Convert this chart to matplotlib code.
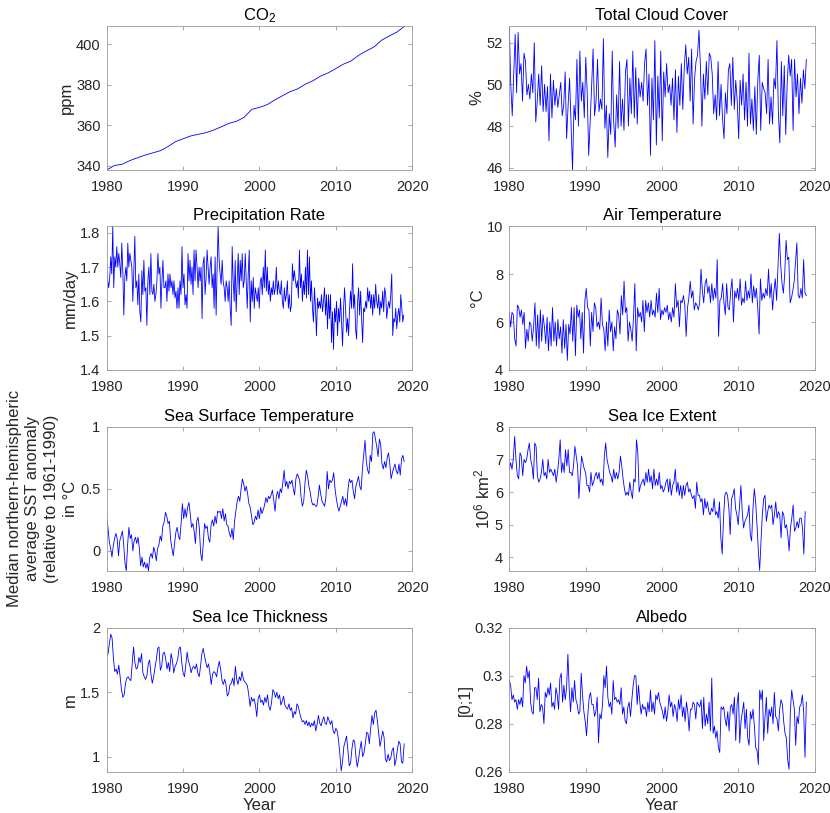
import numpy as np
import matplotlib
matplotlib.use("Agg")
import matplotlib.pyplot as plt
from matplotlib.ticker import FuncFormatter

# CO2, ppm (annual, 1980-2019)
co2_years = list(range(1980, 2020))
co2 = [338.0, 340.2, 340.8, 342.6, 344.0, 345.3, 346.4, 347.5, 349.5, 352.0,
       353.4, 354.8, 355.6, 356.4, 357.7, 359.3, 361.0, 362.0, 364.0, 367.9,
       368.9, 370.2, 372.5, 374.6, 376.6, 378.0, 380.3, 382.0, 384.3, 385.9,
       388.0, 390.2, 391.8, 394.6, 396.7, 398.7, 402.0, 404.1, 406.0, 408.9]

# total cloud cover, %
cloud = [52.8, 50.0, 48.5, 50.5, 52.4, 49.6, 52.5, 50.5, 51.0, 49.2,
         51.5, 51.1, 49.5, 50.0, 49.3, 50.5, 49.6, 52.0, 48.2, 49.2,
         50.5, 49.0, 50.9, 48.7, 50.0, 48.7, 49.9, 47.3, 50.5, 48.4,
         50.2, 49.0, 49.8, 48.9, 49.5, 50.1, 48.5, 49.0, 50.6, 47.4,
         49.0, 50.3, 48.1, 45.9, 49.0, 48.3, 51.2, 48.0, 51.6, 49.2,
         50.1, 48.4, 51.3, 49.6, 46.6, 48.2, 50.0, 51.7, 48.5, 49.2,
         51.2, 48.7, 49.3, 48.8, 52.2, 47.9, 49.0, 46.5, 48.6, 47.6,
         51.6, 48.2, 47.0, 49.5, 47.9, 51.1, 48.0, 49.3, 47.8, 50.6,
         51.2, 48.0, 50.3, 48.6, 51.6, 48.4, 50.8, 48.1, 50.3, 49.4,
         50.1, 49.2, 51.0, 51.7, 49.0, 50.5, 46.6, 50.3, 48.3, 52.1,
         47.1, 50.4, 48.4, 51.6, 47.3, 50.6, 49.4, 51.0, 49.6, 50.0,
         49.0, 50.3, 48.3, 50.7, 47.7, 50.4, 49.0, 51.0, 48.8, 50.8,
         51.9, 50.5, 51.3, 49.2, 51.7, 48.1, 50.3, 51.1, 51.4, 52.6,
         50.8, 48.0, 50.5, 49.3, 51.1, 49.5, 51.5, 51.3, 50.5, 48.6,
         49.5, 48.3, 51.1, 48.5, 50.0, 48.4, 47.4, 49.6, 48.6, 50.7,
         51.0, 49.0, 51.3, 48.8, 50.2, 49.2, 47.4, 50.2, 49.0, 50.5,
         48.3, 50.1, 48.0, 51.5, 48.1, 49.3, 47.8, 49.9, 47.6, 50.2,
         51.4, 47.8, 50.1, 49.8, 49.6, 48.6, 51.2, 48.1, 49.4, 48.1,
         50.3, 49.8, 52.1, 48.6, 47.2, 51.1, 48.5, 50.9, 47.6, 50.1,
         51.4, 50.4, 51.2, 47.8, 51.2, 49.4, 50.5, 48.6, 50.3, 49.1,
         50.7, 49.8, 51.2]

# precipitation rate, mm/day
precip = [1.69, 1.66, 1.64, 1.67, 1.73, 1.68, 1.82, 1.64, 1.73, 1.70,
          1.76, 1.70, 1.74, 1.71, 1.67, 1.77, 1.69, 1.56, 1.67, 1.70,
          1.66, 1.77, 1.70, 1.74, 1.72, 1.70, 1.60, 1.69, 1.79, 1.64,
          1.66, 1.59, 1.68, 1.57, 1.54, 1.69, 1.62, 1.72, 1.63, 1.64,
          1.53, 1.66, 1.70, 1.62, 1.74, 1.63, 1.62, 1.65, 1.60, 1.62,
          1.66, 1.74, 1.68, 1.70, 1.58, 1.66, 1.72, 1.64, 1.64, 1.66,
          1.60, 1.68, 1.63, 1.68, 1.64, 1.66, 1.62, 1.66, 1.61, 1.63,
          1.58, 1.64, 1.58, 1.66, 1.62, 1.76, 1.64, 1.68, 1.59, 1.62,
          1.58, 1.74, 1.66, 1.72, 1.65, 1.70, 1.62, 1.75, 1.66, 1.75,
          1.70, 1.64, 1.70, 1.66, 1.70, 1.55, 1.71, 1.73, 1.62, 1.67,
          1.75, 1.70, 1.65, 1.70, 1.73, 1.64, 1.68, 1.58, 1.73, 1.56,
          1.70, 1.82, 1.72, 1.68, 1.65, 1.72, 1.66, 1.64, 1.60, 1.66,
          1.64, 1.60, 1.66, 1.58, 1.53, 1.76, 1.66, 1.60, 1.72, 1.57,
          1.66, 1.74, 1.62, 1.72, 1.66, 1.74, 1.64, 1.66, 1.74, 1.66,
          1.58, 1.68, 1.75, 1.54, 1.66, 1.60, 1.67, 1.58, 1.64, 1.62,
          1.60, 1.64, 1.58, 1.66, 1.67, 1.62, 1.70, 1.64, 1.75, 1.63,
          1.70, 1.62, 1.66, 1.60, 1.64, 1.62, 1.66, 1.62, 1.64, 1.70,
          1.62, 1.66, 1.63, 1.62, 1.66, 1.60, 1.58, 1.64, 1.60, 1.62,
          1.66, 1.58, 1.62, 1.57, 1.59, 1.71, 1.66, 1.69, 1.66, 1.64,
          1.66, 1.61, 1.75, 1.64, 1.68, 1.60, 1.66, 1.62, 1.70, 1.61,
          1.75, 1.62, 1.73, 1.60, 1.66, 1.58, 1.54, 1.64, 1.58, 1.50,
          1.61, 1.58, 1.60, 1.58, 1.62, 1.57, 1.60, 1.64, 1.56, 1.62,
          1.52, 1.62, 1.55, 1.62, 1.48, 1.57, 1.46, 1.58, 1.54, 1.60,
          1.50, 1.58, 1.54, 1.61, 1.54, 1.47, 1.58, 1.64, 1.58, 1.51,
          1.55, 1.50, 1.58, 1.63, 1.58, 1.71, 1.58, 1.62, 1.52, 1.49,
          1.60, 1.64, 1.56, 1.63, 1.55, 1.48, 1.58, 1.57, 1.60, 1.58,
          1.64, 1.60, 1.63, 1.58, 1.62, 1.56, 1.62, 1.58, 1.65, 1.60,
          1.58, 1.62, 1.56, 1.60, 1.58, 1.63, 1.57, 1.64, 1.62, 1.55,
          1.58, 1.60, 1.58, 1.62, 1.68, 1.50, 1.55, 1.54, 1.58, 1.52,
          1.56, 1.58, 1.54, 1.62, 1.58, 1.54, 1.56]

# air temperature, degC
air = [6.4, 5.8, 6.4, 6.3, 5.3, 5.0, 6.7, 6.6, 6.2, 6.5,
       5.9, 6.4, 4.9, 5.7, 5.2, 6.0, 5.9, 5.2, 5.8, 6.8,
       5.0, 6.3, 4.9, 6.5, 5.2, 6.3, 5.8, 5.1, 6.2, 4.8,
       6.0, 5.0, 6.6, 5.2, 6.0, 5.0, 6.1, 5.3, 5.8, 4.7,
       6.1, 4.9, 5.9, 4.4, 5.9, 5.5, 6.6, 5.2, 6.6, 4.6,
       6.7, 6.2, 6.5, 5.3, 6.4, 4.7, 6.9, 7.4, 6.6, 6.5,
       5.0, 6.4, 5.6, 6.8, 6.6, 5.8, 6.0, 5.7, 7.0, 5.9,
       5.7, 4.8, 6.0, 5.0, 6.5, 5.6, 6.0, 4.8, 5.8, 5.3,
       6.5, 6.3, 5.5, 7.1, 6.3, 7.7, 6.4, 6.6, 5.2, 6.0,
       5.7, 5.2, 6.2, 7.6, 4.8, 6.6, 6.2, 6.4, 6.0, 6.9,
       5.6, 6.9, 6.4, 6.8, 6.2, 6.9, 6.3, 6.5, 6.2, 7.2,
       6.4, 7.4, 6.1, 6.5, 6.3, 6.6, 6.4, 6.7, 6.1, 6.4,
       6.0, 6.6, 6.2, 7.6, 6.6, 6.9, 5.8, 6.9, 6.8, 7.1,
       6.7, 5.4, 6.6, 7.0, 7.7, 7.0, 7.3, 6.5, 6.8, 6.7,
       6.5, 6.8, 8.2, 7.3, 6.8, 7.6, 7.8, 7.2, 7.5, 6.8,
       7.6, 6.9, 7.4, 7.0, 8.6, 5.4, 6.9, 7.0, 7.6, 6.8,
       6.3, 7.6, 6.6, 6.5, 7.3, 7.8, 6.0, 7.3, 7.0, 7.4,
       6.9, 7.8, 6.7, 7.0, 6.8, 7.7, 6.9, 7.3, 7.0, 8.0,
       6.8, 7.5, 7.0, 7.4, 6.6, 5.5, 7.8, 6.9, 7.2, 7.0,
       7.4, 7.1, 8.2, 7.0, 7.6, 6.5, 7.3, 7.8, 6.9, 8.3,
       9.7, 8.4, 7.6, 7.2, 8.0, 9.4, 8.6, 8.7, 6.8, 7.0,
       7.3, 7.7, 8.5, 9.3, 7.1, 7.0, 7.4, 7.0, 8.6, 7.2,
       7.1]

# sea surface temperature anomaly, degC
sst = [0.27, 0.18, 0.07, 0.02, -0.05, 0.04, 0.10, 0.14, 0.10, -0.04,
       0.08, 0.12, 0.16, 0.05, -0.10, -0.16, 0.05, 0.19, 0.10, 0.13,
       0.00, 0.08, 0.11, 0.06, 0.11, 0.02, -0.12, -0.05, -0.13, -0.09,
       -0.14, -0.10, -0.16, -0.05, -0.02, -0.06, 0.03, -0.01, -0.08, 0.02,
       0.05, 0.12, 0.08, 0.20, 0.23, 0.31, 0.28, 0.22, 0.24, 0.09,
       0.02, -0.04, 0.06, 0.15, 0.19, 0.12, 0.09, 0.22, 0.38, 0.26,
       0.34, 0.27, 0.35, 0.39, 0.30, 0.19, 0.22, 0.16, 0.06, 0.24,
       0.27, 0.18, -0.02, -0.08, 0.06, 0.22, 0.18, 0.20, 0.10, 0.07,
       0.21, 0.25, 0.20, 0.28, 0.22, 0.32, 0.31, 0.32, 0.26, 0.34,
       0.24, 0.30, 0.21, 0.20, 0.14, 0.11, 0.18, 0.09, 0.24, 0.32,
       0.40, 0.44, 0.40, 0.50, 0.58, 0.54, 0.48, 0.52, 0.46, 0.38,
       0.35, 0.28, 0.21, 0.23, 0.28, 0.25, 0.33, 0.26, 0.35, 0.30,
       0.33, 0.37, 0.43, 0.39, 0.44, 0.42, 0.45, 0.49, 0.41, 0.32,
       0.44, 0.48, 0.42, 0.50, 0.47, 0.55, 0.65, 0.52, 0.56, 0.50,
       0.56, 0.54, 0.57, 0.50, 0.45, 0.58, 0.62, 0.60, 0.56, 0.43,
       0.36, 0.40, 0.55, 0.65, 0.60, 0.52, 0.47, 0.40, 0.37, 0.38,
       0.36, 0.36, 0.43, 0.53, 0.46, 0.40, 0.38, 0.36, 0.43, 0.64,
       0.50, 0.57, 0.55, 0.57, 0.63, 0.50, 0.42, 0.36, 0.32, 0.36,
       0.40, 0.44, 0.37, 0.42, 0.36, 0.50, 0.58, 0.55, 0.57, 0.48,
       0.42, 0.52, 0.56, 0.60, 0.52, 0.49, 0.66, 0.78, 0.89, 0.72,
       0.65, 0.62, 0.77, 0.72, 0.95, 0.96, 0.90, 0.84, 0.76, 0.90,
       0.86, 0.70, 0.66, 0.72, 0.67, 0.75, 0.79, 0.70, 0.58, 0.63,
       0.67, 0.70, 0.64, 0.62, 0.70, 0.61, 0.74, 0.77, 0.72]

# sea ice extent, 10^6 km^2
extent = [6.7, 6.9, 6.7, 7.0, 7.7, 7.0, 6.5, 6.4, 7.2, 7.1,
          6.5, 7.0, 6.9, 7.0, 7.3, 7.5, 7.0, 6.8, 6.4, 7.5,
          7.4, 6.5, 6.3, 6.4, 6.6, 7.0, 6.5, 6.6, 6.4, 7.0,
          6.6, 6.7, 6.6, 6.5, 6.7, 6.3, 6.6, 7.0, 7.6, 6.6,
          6.9, 6.6, 7.3, 6.8, 7.3, 6.6, 6.6, 6.5, 6.8, 7.4,
          7.1, 6.8, 5.8, 6.5, 7.1, 6.9, 6.7, 6.6, 6.2, 6.2,
          6.0, 6.6, 6.2, 6.3, 6.5, 6.6, 6.4, 6.6, 6.3, 6.4,
          6.2, 7.1, 7.5, 7.0, 6.8, 6.6, 6.5, 6.3, 6.7, 6.4,
          6.6, 6.4, 6.6, 7.1, 6.8, 6.4, 6.1, 5.9, 6.0, 5.9,
          6.3, 6.0, 5.8, 6.4, 6.3, 7.6, 7.2, 6.0, 6.2, 6.3,
          6.4, 6.2, 6.6, 6.3, 6.7, 6.3, 6.5, 6.1, 6.7, 6.2,
          6.4, 6.2, 6.6, 6.1, 6.2, 6.0, 6.1, 6.3, 6.4, 6.0,
          6.4, 5.9, 6.2, 6.3, 6.7, 6.0, 6.3, 5.9, 6.2, 5.8,
          6.2, 5.9, 6.2, 6.3, 6.0, 6.1, 5.9, 5.8, 5.9, 5.5,
          6.3, 5.9, 5.9, 5.7, 5.8, 5.3, 5.8, 5.5, 5.7, 5.4,
          5.3, 5.5, 5.4, 5.8, 5.3, 5.4, 5.2, 5.7, 4.6, 4.1,
          5.2, 5.9, 6.0, 5.9, 5.5, 4.7, 5.8, 5.9, 6.1, 5.5,
          5.3, 5.0, 5.6, 6.2, 5.4, 4.9, 5.1, 5.2, 5.3, 5.6,
          4.7, 4.5, 5.5, 6.1, 5.7, 5.0, 4.2, 3.6, 4.5, 5.3,
          5.8, 5.9, 5.1, 5.4, 5.6, 5.5, 5.6, 5.0, 5.3, 5.7,
          5.2, 5.4, 5.3, 4.6, 5.4, 5.3, 4.9, 5.0, 4.7, 4.2,
          4.9, 5.2, 5.6, 4.8, 4.9, 5.1, 4.9, 5.2, 5.2, 4.9,
          4.1, 5.4]

# sea ice thickness, m
thickness = [1.78, 1.80, 1.88, 1.95, 1.92, 1.76, 1.66, 1.68, 1.64, 1.71,
             1.62, 1.52, 1.46, 1.48, 1.57, 1.61, 1.62, 1.60, 1.59, 1.72,
             1.85, 1.73, 1.68, 1.69, 1.77, 1.73, 1.80, 1.65, 1.62, 1.60,
             1.63, 1.72, 1.75, 1.64, 1.57, 1.62, 1.69, 1.75, 1.84, 1.85,
             1.67, 1.70, 1.80, 1.81, 1.76, 1.68, 1.73, 1.66, 1.80, 1.75,
             1.65, 1.70, 1.72, 1.76, 1.84, 1.85, 1.73, 1.65, 1.62, 1.71,
             1.81, 1.74, 1.71, 1.65, 1.69, 1.70, 1.68, 1.72, 1.65, 1.62,
             1.70, 1.80, 1.84, 1.78, 1.73, 1.69, 1.72, 1.65, 1.56, 1.64,
             1.66, 1.65, 1.62, 1.69, 1.74, 1.68, 1.59, 1.56, 1.60, 1.56,
             1.47, 1.49, 1.56, 1.57, 1.61, 1.55, 1.70, 1.60, 1.56, 1.62,
             1.59, 1.66, 1.60, 1.58, 1.57, 1.55, 1.48, 1.39, 1.46, 1.43,
             1.45, 1.40, 1.31, 1.45, 1.48, 1.42, 1.44, 1.40, 1.46, 1.42,
             1.48, 1.39, 1.36, 1.42, 1.52, 1.50, 1.46, 1.50, 1.45, 1.48,
             1.40, 1.43, 1.47, 1.40, 1.38, 1.37, 1.41, 1.36, 1.38, 1.30,
             1.35, 1.33, 1.41, 1.39, 1.34, 1.30, 1.27, 1.28, 1.25, 1.28,
             1.24, 1.27, 1.23, 1.26, 1.24, 1.28, 1.20, 1.25, 1.32, 1.26,
             1.24, 1.28, 1.31, 1.26, 1.25, 1.31, 1.28, 1.25, 1.28, 1.20,
             1.18, 1.22, 1.20, 1.13, 1.02, 0.89, 0.96, 1.08, 1.12, 1.16,
             1.05, 0.93, 0.95, 1.06, 1.13, 1.12, 1.00, 0.92, 0.98, 1.06,
             1.12, 1.00, 1.03, 1.10, 1.19, 1.18, 1.10, 1.22, 1.32, 1.25,
             1.34, 1.36, 1.28, 1.18, 1.08, 1.14, 1.20, 1.15, 0.98, 0.96,
             1.02, 0.97, 0.99, 1.05, 1.07, 0.93, 0.98, 1.06, 1.12, 1.10,
             0.96, 0.95, 1.10]

# albedo, [0;1]
albedo = [0.298, 0.296, 0.290, 0.292, 0.289, 0.290, 0.286, 0.290, 0.288, 0.291,
          0.287, 0.300, 0.297, 0.304, 0.299, 0.302, 0.289, 0.285, 0.284, 0.295,
          0.295, 0.290, 0.299, 0.285, 0.288, 0.287, 0.280, 0.293, 0.291, 0.295,
          0.292, 0.297, 0.287, 0.289, 0.286, 0.295, 0.292, 0.286, 0.299, 0.301,
          0.289, 0.296, 0.290, 0.295, 0.309, 0.294, 0.285, 0.295, 0.289, 0.298,
          0.290, 0.288, 0.284, 0.285, 0.301, 0.292, 0.285, 0.281, 0.275, 0.284,
          0.291, 0.293, 0.288, 0.288, 0.283, 0.285, 0.291, 0.272, 0.284, 0.282,
          0.288, 0.300, 0.295, 0.304, 0.291, 0.287, 0.289, 0.284, 0.298, 0.290,
          0.291, 0.289, 0.290, 0.288, 0.295, 0.284, 0.287, 0.281, 0.280, 0.287,
          0.289, 0.283, 0.290, 0.296, 0.300, 0.300, 0.288, 0.296, 0.289, 0.284,
          0.288, 0.286, 0.287, 0.283, 0.289, 0.285, 0.294, 0.285, 0.289, 0.284,
          0.292, 0.290, 0.293, 0.289, 0.287, 0.285, 0.282, 0.287, 0.281, 0.285,
          0.292, 0.287, 0.289, 0.283, 0.288, 0.286, 0.281, 0.290, 0.286, 0.292,
          0.283, 0.287, 0.281, 0.289, 0.285, 0.277, 0.286, 0.286, 0.289, 0.288,
          0.282, 0.289, 0.288, 0.287, 0.290, 0.278, 0.291, 0.279, 0.284, 0.280,
          0.289, 0.277, 0.299, 0.276, 0.279, 0.274, 0.277, 0.270, 0.268, 0.287,
          0.286, 0.287, 0.282, 0.279, 0.285, 0.277, 0.287, 0.288, 0.284, 0.291,
          0.273, 0.288, 0.293, 0.272, 0.281, 0.285, 0.289, 0.278, 0.286, 0.274,
          0.271, 0.285, 0.282, 0.286, 0.279, 0.270, 0.269, 0.263, 0.294, 0.290,
          0.294, 0.273, 0.283, 0.291, 0.276, 0.286, 0.283, 0.287, 0.280, 0.293,
          0.283, 0.282, 0.277, 0.286, 0.290, 0.288, 0.281, 0.276, 0.274, 0.265,
          0.261, 0.285, 0.294, 0.290, 0.286, 0.271, 0.283, 0.280, 0.287, 0.288,
          0.292, 0.285, 0.266, 0.289]

sst_label = ("Median northern-hemispheric\naverage SST anomaly\n"
             "(relative to 1961-1990)\nin °C")

# title, ylabel, values, last year, ylim, yticks
panels = [
    ("CO$_\\mathregular{2}$", "ppm", co2, None, (338, 409), [340, 360, 380, 400]),
    ("Total Cloud Cover", "%", cloud, 2018.9, (45.9, 52.8), [46, 48, 50, 52]),
    ("Precipitation Rate", "mm/day", precip, 2018.9, (1.4, 1.82), [1.4, 1.5, 1.6, 1.7, 1.8]),
    ("Air Temperature", "°C", air, 2018.9, (4, 10), [4, 6, 8, 10]),
    ("Sea Surface Temperature", sst_label, sst, 2018.95, (-0.16, 1.0), [0, 0.5, 1]),
    ("Sea Ice Extent", "10$^\\mathregular{6}$ km$^\\mathregular{2}$", extent, 2018.75, (3.59, 8), [4, 5, 6, 7, 8]),
    ("Sea Ice Thickness", "m", thickness, 2018.95, (0.884, 2.0), [1, 1.5, 2]),
    ("Albedo", "[0;1]", albedo, 2018.9, (0.26, 0.32), [0.26, 0.28, 0.3, 0.32]),
]

plt.rcParams["font.family"] = ["Liberation Sans", "DejaVu Sans"]
plt.rcParams["mathtext.fontset"] = "custom"
plt.rcParams["mathtext.rm"] = "Liberation Sans"
plt.rcParams["mathtext.it"] = "Liberation Sans:italic"

fig = plt.figure(figsize=(8.3, 8.13), dpi=100)

lefts = [0.1286, 0.6136]
width = 0.368
height = 0.1771
bottoms = [0.7909, 0.5449, 0.298, 0.0508]
txt = "#262626"
edge = "#9a9a9a"

for i, (title, ylab, vals, end, ylim, yt) in enumerate(panels):
    row, col = divmod(i, 2)
    ax = fig.add_axes([lefts[col], bottoms[row], width, height])
    if end is None:
        years = co2_years
    else:
        years = np.linspace(1980, end, len(vals))
    ax.plot(years, vals, color="#0000ff", linewidth=0.6)
    ax.set_xlim(1980, 2020)
    ax.set_ylim(*ylim)
    ax.set_xticks([1980, 1990, 2000, 2010, 2020])
    ax.set_yticks(yt)
    ax.yaxis.set_major_formatter(FuncFormatter(lambda v, p: f"{v:g}"))
    ax.tick_params(direction="in", top=True, right=True, length=3,
                   width=0.6, color=edge, labelcolor=txt, labelsize=10.5)
    ax.tick_params(axis="x", pad=7.5)
    ax.tick_params(axis="y", pad=4.5)
    for s in ax.spines.values():
        s.set_color(edge)
        s.set_linewidth(0.6)
    ax.set_title(title, fontsize=12, color="black", pad=4)
    spacing = 1.32 if ylab == sst_label else 1.15
    ax.set_ylabel(ylab, fontsize=12, color=txt, labelpad=1.5, linespacing=spacing)
    if row == 3:
        ax.set_xlabel("Year", fontsize=12, color=txt, labelpad=1.5)

fig.savefig("out.png", dpi=100)
